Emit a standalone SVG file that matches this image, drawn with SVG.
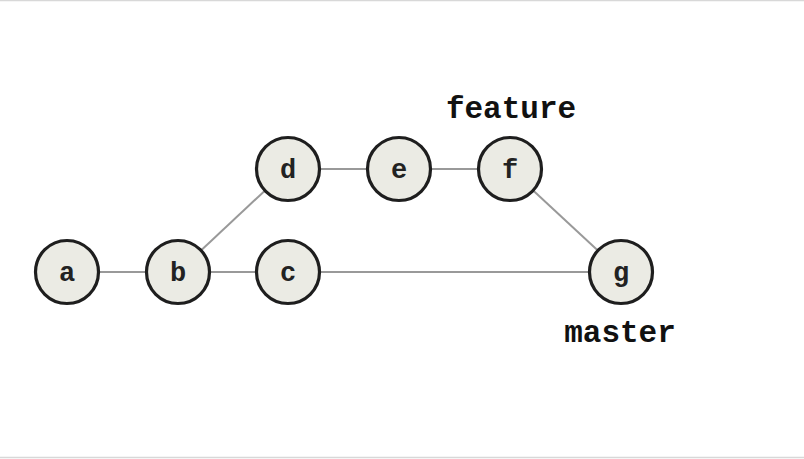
<svg xmlns="http://www.w3.org/2000/svg" width="804" height="459" viewBox="0 0 804 459">
  <style>
    .node circle { fill: #ebebe4; stroke: #1e1e1e; stroke-width: 3.2; }
    .node text { font-family: "Liberation Mono", "Courier New", monospace; font-weight: bold; font-size: 27px; fill: #222; text-anchor: middle; }
    .edge { stroke: #999; stroke-width: 2; fill: none; }
    .label { font-family: "Liberation Mono", "Courier New", monospace; font-weight: bold; font-size: 31px; fill: #111; text-anchor: middle; }
  </style>
  <rect x="0" y="0" width="804" height="459" fill="#fff"/>
  <line x1="0" y1="0.5" x2="804" y2="0.5" stroke="#d8d8d8" stroke-width="1.5"/>
  <line x1="0" y1="457.5" x2="804" y2="457.5" stroke="#d8d8d8" stroke-width="1.5"/>
  <g id="connectors">
    <line class="edge" x1="67" y1="272" x2="178" y2="272"/>
    <line class="edge" x1="178" y1="272" x2="288" y2="272"/>
    <line class="edge" x1="288" y1="272" x2="621" y2="272"/>
    <line class="edge" x1="178" y1="272" x2="288" y2="169"/>
    <line class="edge" x1="288" y1="169" x2="399" y2="169"/>
    <line class="edge" x1="399" y1="169" x2="510" y2="169"/>
    <line class="edge" x1="510" y1="169" x2="621" y2="272"/>
  </g>
  <g id="node-a" class="node"><circle cx="67" cy="272" r="31.5"/><text x="67" y="281">a</text></g>
  <g id="node-b" class="node"><circle cx="178" cy="272" r="31.5"/><text x="178" y="281">b</text></g>
  <g id="node-c" class="node"><circle cx="288" cy="272" r="31.5"/><text x="288" y="281">c</text></g>
  <g id="node-d" class="node"><circle cx="288" cy="169" r="31.5"/><text x="288" y="178">d</text></g>
  <g id="node-e" class="node"><circle cx="399" cy="169" r="31.5"/><text x="399" y="178">e</text></g>
  <g id="node-f" class="node"><circle cx="510" cy="169" r="31.5"/><text x="510" y="178">f</text></g>
  <g id="node-g" class="node"><circle cx="621" cy="272" r="31.5"/><text x="621" y="281">g</text></g>
  <g id="label-feature"><text class="label" x="511" y="118">feature</text></g>
  <g id="label-master"><text class="label" x="620" y="342">master</text></g>
</svg>
